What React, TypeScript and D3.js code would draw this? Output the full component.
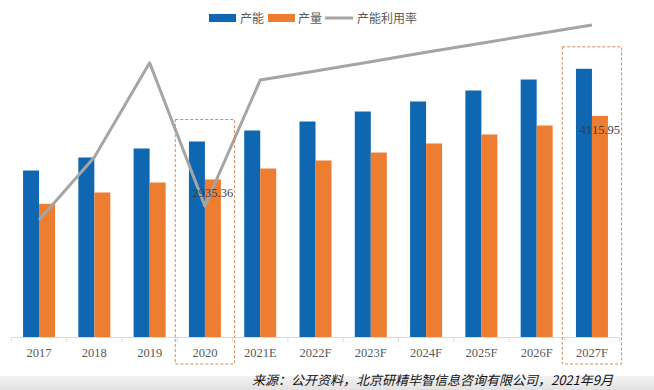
import React from 'react';
import * as d3 from 'd3';

// chart data
const years = ['2017', '2018', '2019', '2020', '2021E', '2022F', '2023F', '2024F', '2025F', '2026F', '2027F'];
const capacity = [3101, 3343, 3510, 3640, 3844, 4011, 4197, 4383, 4587, 4791, 4990];
const output = [2483, 2693, 2878, 2935.36, 3138, 3287, 3435, 3603, 3770, 3937, 4115.95];
const utilization = [79.5, 80.95, 83.13, 79.82, 82.73, 82.94, 83.15, 83.37, 83.58, 83.79, 84.0];
const seriesNames = ['产能', '产量', '产能利用率'];
const highlighted = ['2020', '2027F'];
const source = '来源：公开资料，北京研精毕智信息咨询有限公司，2021年9月';

const W = 654;
const H = 390;
const BLUE = '#0f67b1';
const ORANGE = '#ed7d31';
const GREY = '#a5a5a5';

export default function App() {
  const baseY = 337.5;
  const x0 = d3.scaleBand<string>().domain(years).range([11.4, 619.6]).paddingInner(0).paddingOuter(0);
  const x1 = d3.scaleBand<string>().domain(['cap', 'out']).range([0, x0.bandwidth()]).paddingInner(0).paddingOuter(0.728);
  const y = d3.scaleLinear().domain([0, 6000]).range([baseY, baseY - 6000 / 18.57]);
  const y2 = d3.scaleLinear().domain([79.5, 84.0]).range([220, 25]);

  const line = d3.line<number>()
    .x((_, i) => (x0(years[i]) as number) + x0.bandwidth() / 2)
    .y(d => y2(d));

  const boundaries = years.map(yr => x0(yr) as number).concat([x0.range()[1]]);

  return (
    <svg width={W} height={H} style={{ position: 'absolute', left: 0, top: 0, background: '#fff' }}
      fontFamily="'Noto Sans CJK SC', sans-serif">
      <defs>
        <linearGradient id="band" x1="0" y1="0" x2="0" y2="1">
          <stop offset="0" stopColor="#f2f2f2" />
          <stop offset="1" stopColor="#e2e2e2" />
        </linearGradient>
      </defs>

      {/* bottom strip */}
      <rect x={0} y={376} width={W} height={14} fill="url(#band)" />

      {/* legend */}
      <g fontSize={12} fill="#595959">
        <rect x={209} y={14} width={27} height={8} fill={BLUE} />
        <text x={240} y={22.5}>{seriesNames[0]}</text>
        <rect x={268} y={14} width={27} height={8} fill={ORANGE} />
        <text x={298} y={22.5}>{seriesNames[1]}</text>
        <line x1={325} x2={353} y1={18} y2={18} stroke={GREY} strokeWidth={3} />
        <text x={357} y={22.5}>{seriesNames[2]}</text>
      </g>

      {/* bars */}
      {years.map((yr, i) => (
        <g key={yr} transform={`translate(${x0(yr)},0)`}>
          <rect x={x1('cap')} y={y(capacity[i])} width={x1.bandwidth()} height={baseY - y(capacity[i])} fill={BLUE} />
          <rect x={x1('out')} y={y(output[i])} width={x1.bandwidth()} height={baseY - y(output[i])} fill={ORANGE} />
        </g>
      ))}

      {/* x axis */}
      <line x1={x0.range()[0]} x2={x0.range()[1]} y1={baseY} y2={baseY} stroke="#d9d9d9" />
      {boundaries.map((bx, i) => (
        <line key={i} x1={bx} x2={bx} y1={baseY} y2={baseY + 4} stroke="#d9d9d9" />
      ))}
      {years.map(yr => (
        <text key={yr} x={(x0(yr) as number) + x0.bandwidth() / 2} y={357} textAnchor="middle"
          fontFamily="'Liberation Serif', serif" fontSize={12.5} fill="#595959">{yr}</text>
      ))}

      {/* utilisation line */}
      <path d={line(utilization) || ''} fill="none" stroke={GREY} strokeWidth={3} strokeLinejoin="round" />

      {/* highlight boxes + labels */}
      {highlighted.map(yr => {
        const i = years.indexOf(yr);
        const bx = x0(yr) as number;
        const top = y(capacity[i]) - 22;
        return (
          <g key={yr}>
            <rect x={bx - 2} y={top} width={x0.bandwidth() + 4} height={364 - top}
              fill="none" stroke="#d08a5c" strokeDasharray="3,2" strokeWidth={1} />
            <text x={bx + (x1('out') as number) + x1.bandwidth() / 2} y={y(output[i]) + 18}
              textAnchor="middle" fontFamily="'Liberation Serif', serif" fontSize={12.5} fill="#404040">
              {output[i].toFixed(2)}
            </text>
          </g>
        );
      })}

      {/* source */}
      <text x={613} y={385} textAnchor="end" fontSize={13} fontStyle="italic" fill="#111">{source}</text>
    </svg>
  );
}
